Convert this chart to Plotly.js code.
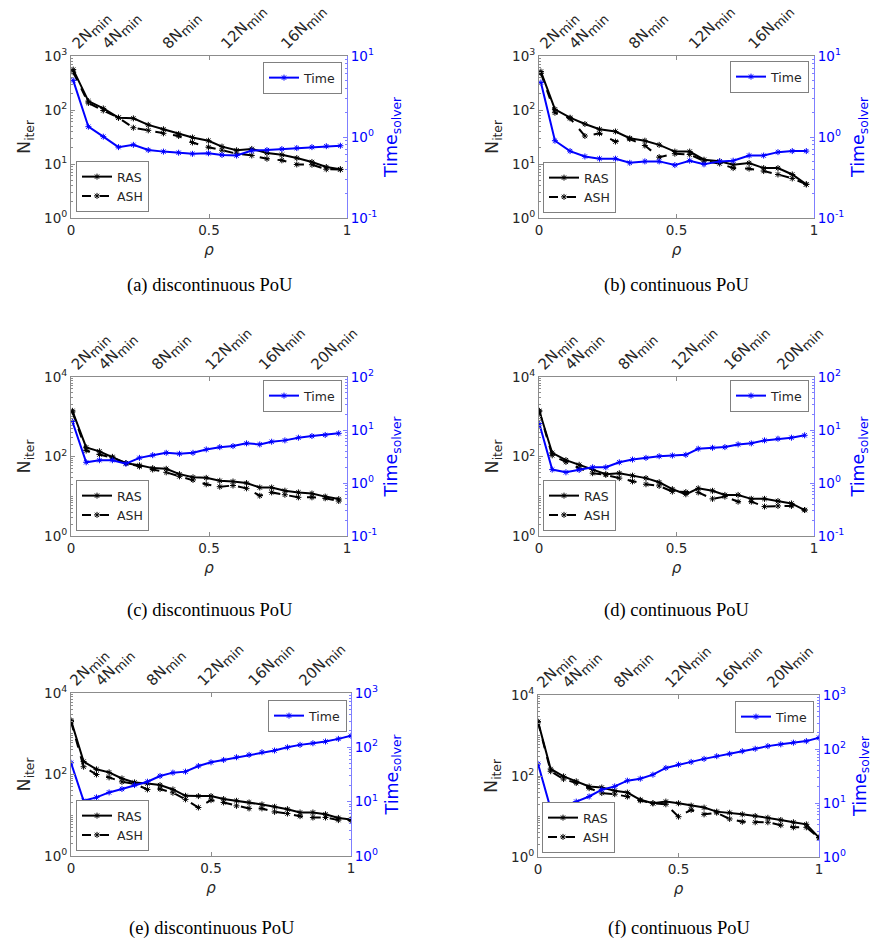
<!DOCTYPE html>
<html><head><meta charset="utf-8">
<script src="https://cdn.plot.ly/plotly-3.0.1.min.js"></script>
<style>html,body{margin:0;padding:0;background:#fff}</style>
</head><body><div id="chart" style="width:882px;height:946px"></div>
<script>
// ---------------- data ----------------
const rhoA  = [0.008,0.063,0.117,0.172,0.226,0.28,0.335,0.39,0.44,0.498,0.547,0.60,0.655,0.71,0.764,0.818,0.873,0.925,0.976];
const rasA  = [560,146,107,72,70,53,44,36,31,27,21,18,19,16,14.8,12.9,10.9,8.8,8.0];
const ashA  = [500,135,98,72,47,42,37,33,25,20.5,18,15.5,14.4,12.5,11.7,9.8,9.7,8.0,7.9];
const timeA = [5.0,1.34,1.01,0.75,0.80,0.69,0.66,0.64,0.62,0.63,0.60,0.59,0.68,0.69,0.71,0.73,0.75,0.77,0.78];

const rhoB  = [0.007,0.058,0.113,0.167,0.22,0.278,0.33,0.385,0.437,0.494,0.548,0.60,0.657,0.706,0.764,0.817,0.869,0.921,0.972];
const rasB  = [515,103,72,55,44,40,30,27,22.6,17,17,12,11.2,9.7,10.4,8.4,8.4,6.4,4.2];
const ashB  = [480,89,70,33,37,26,29,22,13.4,15.5,15,11.4,10.2,8.4,8.2,7.4,6.4,5.4,4.2];
const timeB = [4.7,0.90,0.67,0.575,0.54,0.54,0.48,0.50,0.50,0.45,0.51,0.46,0.50,0.51,0.59,0.59,0.65,0.67,0.67];

const rhoC  = [0.005,0.055,0.103,0.150,0.199,0.248,0.296,0.345,0.393,0.442,0.49,0.539,0.587,0.636,0.684,0.727,0.775,0.824,0.873,0.921,0.97];
const rasC  = [1410,170,135,98,68,60,51,49,36,30,29,24.5,23.5,21.5,16.6,16.6,13.8,12.5,11.7,9.8,8.5];
const ashC  = [1320,141,112,93,68,56,47,40,31.6,25.7,20,17.4,18.6,15.8,10.3,12.5,10.9,9.4,9.4,8.9,7.6];
const timeC = [14.5,2.46,2.69,2.69,2.32,2.98,3.35,3.71,3.56,3.71,4.30,4.75,4.97,5.60,5.35,6.01,6.37,7.16,7.69,8.07,8.65];

const rhoD  = [0.001,0.048,0.098,0.146,0.195,0.243,0.292,0.34,0.389,0.437,0.485,0.534,0.579,0.631,0.676,0.724,0.772,0.82,0.869,0.918,0.966];
const rasD  = [1410,123,81,62,47,36,38,33,28.6,22.5,15.1,11.2,15.8,13.7,10.8,10.8,8.6,8.6,7.6,6.6,4.5];
const ashD  = [1380,107,73,51,38,34.5,28.6,23.6,20,18.2,13.1,12.8,12.5,8.6,9.8,7.3,7.3,5.5,5.7,5.7,4.5];
const timeD = [13.2,1.79,1.59,1.76,1.98,1.98,2.46,2.77,2.98,3.20,3.30,3.40,4.43,4.62,4.76,5.35,5.60,6.37,6.84,7.16,7.94];

const rhoE  = [0,0.045,0.091,0.136,0.182,0.227,0.273,0.318,0.364,0.409,0.455,0.5,0.545,0.591,0.636,0.682,0.727,0.773,0.818,0.864,0.909,0.955,1.0];
const rasE  = [2130,208,134,113,80,64,60,55,43,30,29.5,29.5,25,22.6,20.6,18.4,16.1,14.1,11.7,11.7,10.6,8.6,7.9];
const ashE  = [2000,155,100,85,66,59,43,44,35.6,24.5,15.5,23.5,20.6,17,14.7,14.7,12.1,11.0,9.5,8.8,8.8,7.6,7.6];
const timeE = [52,10.4,12.0,14.8,17.1,20.2,23.3,29.7,34.2,35.7,45.4,53,58.6,65.7,72.6,81.3,87.3,100,111,119,128,143,163];

const rhoF  = [0,0.045,0.091,0.136,0.182,0.227,0.273,0.318,0.364,0.409,0.455,0.5,0.545,0.591,0.636,0.682,0.727,0.773,0.818,0.864,0.909,0.955,1.0];
const rasF  = [2200,149,98,74,55,52,43,39,25.8,21.2,23.4,21.2,18.6,16.6,13.2,12.4,11.3,10.3,9.3,8.2,7.2,6.4,3.0];
const ashF  = [2150,131,84,67,50,38,35.6,31,24.8,21.2,20,9.9,14.5,11.3,12.4,8.7,7.4,7.2,7.2,6.1,5.4,5.4,3.0];
const timeF = [53,7.8,8.96,10.6,13.2,17.6,20.3,25.9,28.2,33.5,44.6,51.4,57.7,65.6,73.6,81.3,91.2,101,113,122,131,140,162];

const topNshort = [2,4,8,12,16];
const topNlong  = [2,4,8,12,16,20];
const xTickVals = [0,0.5,1];
const xTickText = ['0','0.5','1'];
const captions = ['(a) discontinuous PoU','(b) continuous PoU','(c) discontinuous PoU',
                  '(d) continuous PoU','(e) discontinuous PoU','(f) continuous PoU'];
const seriesNames = ['RAS','ASH','Time'];

// ---------------- panel config ----------------
const W = 882, H = 946;
const panels = [
  {rho:rhoA, ras:rasA, ash:ashA, time:timeA, topN:topNshort, yL:[0,3], yLmaj:[0,1,2,3], yR:[-1,1], yRmaj:[-1,0,1], px:[71,347], py:[56,218], tl:[342,62], bl:[76,212], cap:285},
  {rho:rhoB, ras:rasB, ash:ashB, time:timeB, topN:topNshort, yL:[0,3], yLmaj:[0,1,2,3], yR:[-1,1], yRmaj:[-1,0,1], px:[539,814], py:[56,218], tl:[809,61], bl:[543,213], cap:285},
  {rho:rhoC, ras:rasC, ash:ashC, time:timeC, topN:topNlong, yL:[0,4], yLmaj:[0,2,4], yR:[-1,2], yRmaj:[-1,0,1,2], px:[71,347], py:[377,536], tl:[342,380], bl:[76,531], cap:610},
  {rho:rhoD, ras:rasD, ash:ashD, time:timeD, topN:topNlong, yL:[0,4], yLmaj:[0,2,4], yR:[-1,2], yRmaj:[-1,0,1,2], px:[539,814], py:[377,536], tl:[809,380], bl:[543,531], cap:610},
  {rho:rhoE, ras:rasE, ash:ashE, time:timeE, topN:topNlong, yL:[0,4], yLmaj:[0,2,4], yR:[0,3], yRmaj:[0,1,2,3], px:[71,351], py:[693,856], tl:[347,700], bl:[76,851], cap:928},
  {rho:rhoF, ras:rasF, ash:ashF, time:timeF, topN:topNlong, yL:[0,4], yLmaj:[0,2,4], yR:[0,3], yRmaj:[0,1,2,3], px:[538,819], py:[695,857], tl:[814,701], bl:[542,853], cap:928}
];

const SANS = 'DejaVu Sans';
const DARK = '#262626';
const AXLINE = '#8c8c8c';
const BLUE = '#0000ff';
const BLUELINE = '#7f7fff';

function ax(n){ return n===1 ? '' : String(n); }
function powLabel(e){ return '10<sup>' + e + '</sup>'; }
function topLabel(n){ return n + 'N<sub><span style="font-size:13px">min</span></sub>'; }
function minorVals(range, majExp){
  const out = [];
  for (let k = range[0]; k < range[1]; k++){
    for (let m = 1; m <= 9; m++){
      if (m === 1 && majExp.indexOf(k) >= 0) continue;
      out.push(m * Math.pow(10, k));
    }
  }
  return out;
}

const traces = [];
const layout = {
  width: W, height: H,
  margin: {l:0, r:0, t:0, b:0},
  paper_bgcolor: '#ffffff', plot_bgcolor: '#ffffff',
  font: {family: SANS, color: DARK, size: 13.5},
  annotations: []
};

panels.forEach((p, i) => {
  const nb = i + 1, nt = i + 7;
  const xb = 'x' + ax(nb), xt = 'x' + ax(nt);
  const yl = 'y' + ax(nb), yr = 'y' + ax(nt);
  const legA = 'legend' + ax(2*i + 1), legB = 'legend' + ax(2*i + 2);
  const xd = [p.px[0]/W, p.px[1]/W];
  const yd = [1 - p.py[1]/H, 1 - p.py[0]/H];

  traces.push({
    x: p.rho, y: p.ras, xaxis: xb, yaxis: yl, name: seriesNames[0], legend: legA,
    type: 'scatter', mode: 'lines+markers',
    line: {color: '#000000', width: 2},
    marker: {symbol: 'asterisk-open', size: 5, color: '#000000', line: {color: '#000000', width: 1}}
  });
  traces.push({
    x: p.rho, y: p.ash, xaxis: xb, yaxis: yl, name: seriesNames[1], legend: legA,
    type: 'scatter', mode: 'lines+markers',
    line: {color: '#000000', width: 2, dash: 'dash'},
    marker: {symbol: 'asterisk-open', size: 5, color: '#000000', line: {color: '#000000', width: 1}}
  });
  traces.push({
    x: p.rho, y: p.time, xaxis: xb, yaxis: yr, name: seriesNames[2], legend: legB,
    type: 'scatter', mode: 'lines+markers',
    line: {color: BLUE, width: 2},
    marker: {symbol: 'asterisk-open', size: 5, color: BLUE, line: {color: BLUE, width: 1}}
  });
  // empty trace to register the top axis subplot
  traces.push({x: [], y: [], xaxis: xt, yaxis: yl, showlegend: false, hoverinfo: 'skip', type: 'scatter', mode: 'lines'});

  layout['xaxis' + ax(nb)] = {
    domain: xd, anchor: yl, range: [0, 1],
    tickmode: 'array', tickvals: xTickVals, ticktext: xTickText,
    ticks: 'inside', ticklen: 4, tickcolor: AXLINE,
    showline: true, linecolor: AXLINE, linewidth: 1, mirror: 'ticks',
    showgrid: false, zeroline: false, automargin: false,
    tickfont: {family: SANS, size: 13.5, color: DARK},
    title: {text: '\u03c1', font: {family: SANS, size: 15, color: DARK, style: 'italic'}, standoff: 7}
  };
  layout['xaxis' + ax(nt)] = {
    overlaying: xb, side: 'top', anchor: yl, range: [0, 1],
    tickmode: 'array',
    tickvals: p.topN.map(n => p.rho[n - 2]),
    ticktext: p.topN.map(topLabel),
    tickangle: -45, ticks: '', showline: false, showgrid: false, zeroline: false, automargin: false,
    tickfont: {family: SANS, size: 15, color: DARK}
  };
  layout['yaxis' + ax(nb)] = {
    domain: yd, anchor: xb, type: 'log', range: p.yL,
    tickmode: 'array', tickvals: p.yLmaj.map(e => Math.pow(10, e)), ticktext: p.yLmaj.map(powLabel),
    ticks: 'inside', ticklen: 4, tickcolor: AXLINE,
    minor: {tickmode: 'array', tickvals: minorVals(p.yL, p.yLmaj), ticks: 'inside', ticklen: 2, tickcolor: AXLINE},
    showline: true, linecolor: AXLINE, linewidth: 1,
    showgrid: false, zeroline: false, automargin: false,
    tickfont: {family: SANS, size: 13.5, color: DARK},
    title: {text: 'N<sub>iter</sub>', font: {family: SANS, size: 17.5, color: DARK}, standoff: 8}
  };
  layout['yaxis' + ax(nt)] = {
    overlaying: yl, side: 'right', anchor: xb, type: 'log', range: p.yR,
    tickmode: 'array', tickvals: p.yRmaj.map(e => Math.pow(10, e)), ticktext: p.yRmaj.map(powLabel),
    ticks: 'inside', ticklen: 4, tickcolor: BLUELINE,
    minor: {tickmode: 'array', tickvals: minorVals(p.yR, p.yRmaj), ticks: 'inside', ticklen: 2, tickcolor: BLUELINE},
    showline: true, linecolor: BLUELINE, linewidth: 1,
    showgrid: false, zeroline: false, automargin: false,
    tickfont: {family: SANS, size: 13.5, color: BLUE},
    title: {text: 'Time<sub>solver</sub>', font: {family: SANS, size: 17.5, color: BLUE}, standoff: 8}
  };
  const legStyle = {bgcolor: '#ffffff', bordercolor: '#808080', borderwidth: 1,
                    font: {family: SANS, size: 12.5, color: DARK}, itemwidth: 30, tracegroupgap: 0};
  layout[legA] = Object.assign({}, legStyle, {x: p.bl[0]/W, y: 1 - p.bl[1]/H, xanchor: 'left', yanchor: 'bottom', xref: 'paper', yref: 'paper'});
  layout[legB] = Object.assign({}, legStyle, {x: p.tl[0]/W, y: 1 - p.tl[1]/H, xanchor: 'right', yanchor: 'top', xref: 'paper', yref: 'paper'});

  layout.annotations.push({
    text: captions[i], xref: 'paper', yref: 'paper',
    x: (p.px[0] + p.px[1]) / 2 / W, y: 1 - p.cap / H,
    xanchor: 'center', yanchor: 'middle', showarrow: false,
    font: {family: 'Liberation Serif', size: 18.5, color: '#000000'}
  });
});

Plotly.newPlot('chart', traces, layout, {displayModeBar: false, staticPlot: true});
</script>
</body></html>
